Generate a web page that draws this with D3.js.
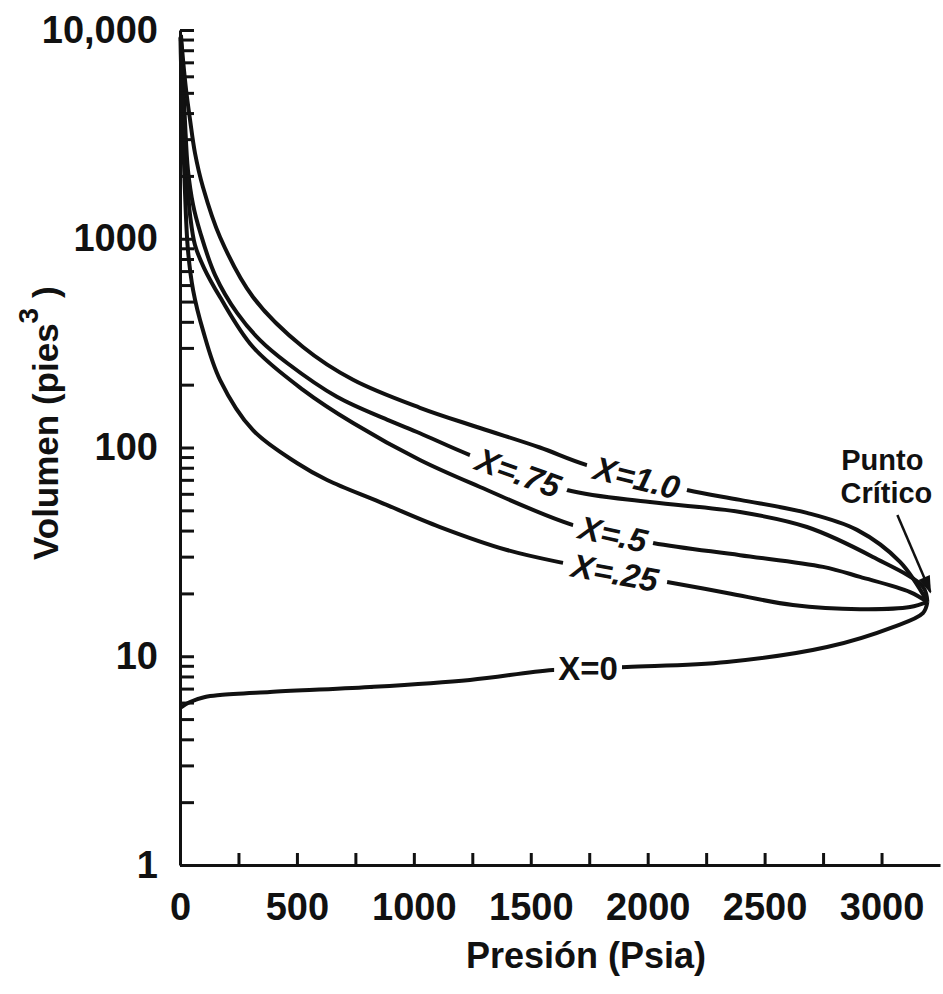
<!DOCTYPE html>
<html>
<head>
<meta charset="utf-8">
<script src="https://cdn.jsdelivr.net/npm/d3@7"></script>
<style>
  body { margin: 0; background: #fff; }
  text { font-family: "Liberation Sans", Arial, Helvetica, sans-serif; fill: #111; }
</style>
</head>
<body>
<div id="wrapper"></div>
<script>
// data: [pressure (psia), volume (ft3)]
const curveX100 = [[4, 9460], [13, 7180], [26, 5160], [43, 3710], [64, 2575], [98, 1770], [171, 1020], [312, 526], [526, 303], [740, 211], [1026, 155], [1283, 124], [1539, 100], [1740, 82.4], [2168, 62.6], [2395, 56.1], [2681, 48.6], [2895, 40.3], [3079, 28.3], [3196, 18.2]]
const curveX75 = [[3, 9300], [9, 7180], [21, 3710], [34, 2135], [56, 1452], [86, 1077], [150, 670], [244, 441], [342, 327], [458, 254], [671, 175], [885, 136], [1026, 117], [1240, 92], [1655, 62.6], [2010, 54.8], [2395, 49.1], [2681, 41.6], [2963, 29.9], [3177, 21.5], [3196, 18.2]]
const curveX50 = [[4, 8960], [13, 4885], [21, 2970], [34, 1713], [43, 1300], [64, 933], [103, 724], [171, 526], [312, 303], [526, 189], [740, 131], [1026, 87.1], [1283, 64.7], [1681, 42.5], [2023, 34.9], [2395, 30.5], [2750, 26.8], [2908, 24], [3122, 20.3], [3196, 18.2]]
const curveX25 = [[2, 9200], [4, 7180], [13, 3318], [21, 1713], [34, 883], [56, 568], [98, 365], [171, 211], [312, 121], [500, 84.3], [629, 69.9], [855, 54.8], [1112, 41.6], [1398, 32.3], [1638, 28], [2083, 22.7], [2339, 20.1], [2621, 17.6], [2908, 16.8], [3122, 17.2], [3196, 18.2]]
const curveX0 = [[0, 5.65], [43, 6.04], [107, 6.38], [171, 6.52], [385, 6.74], [812, 7.12], [1240, 7.7], [1595, 8.59], [1911, 8.88], [2339, 9.39], [2767, 11.07], [3049, 13.8], [3177, 16.1], [3196, 18.2]]

const curves = [curveX100, curveX75, curveX50, curveX25, curveX0]
const curveLabels = ["X=1.0", "X=.75", "X=.5", "X=.25", "X=0"]
const labelFrom = [1740, 1240, 1681, 1638, 1600]   // pressure where the label starts
const labelTo = [2168, 1655, 2023, 2083, 1890]     // pressure where it ends
const labelItalic = [true, true, true, true, false]

const critPressure = 3196
const critVolume = 18.2

const xTicks = [0, 250, 500, 750, 1000, 1250, 1500, 1750, 2000, 2250, 2500, 2750, 3000]
const yMajor = [1, 10, 100, 1000, 10000]
const yMajorLabels = ["1", "10", "100", "1000", "10,000"]

const drawChart = () => {
  const dimensions = {
    width: 943,
    height: 994,
    margin: { top: 30, right: 3, bottom: 129, left: 180 },
  }
  dimensions.boundedWidth = dimensions.width - dimensions.margin.left - dimensions.margin.right
  dimensions.boundedHeight = dimensions.height - dimensions.margin.top - dimensions.margin.bottom

  const svg = d3.select("#wrapper")
    .append("svg")
    .attr("width", dimensions.width)
    .attr("height", dimensions.height)
    .style("background", "#fff")

  svg.append("defs").append("marker")
    .attr("id", "arrow")
    .attr("viewBox", "0 0 10 10")
    .attr("refX", 9).attr("refY", 5)
    .attr("markerWidth", 8).attr("markerHeight", 7)
    .attr("orient", "auto")
    .append("path")
    .attr("d", "M0,1.5 L10,5 L0,8.5 Z")
    .attr("fill", "#111")

  const bounds = svg.append("g")
    .attr("transform", `translate(${dimensions.margin.left},${dimensions.margin.top})`)

  const xScale = d3.scaleLinear().domain([0, 3250]).range([0, dimensions.boundedWidth])
  const yScale = d3.scaleLog().domain([1, 10000]).range([dimensions.boundedHeight, 0])

  const lineGen = d3.line()
    .x(d => xScale(d[0]))
    .y(d => yScale(d[1]))
    .curve(d3.curveCatmullRom.alpha(0.5))

  bounds.selectAll(".curve")
    .data(curves)
    .join("path")
    .attr("class", "curve")
    .attr("d", lineGen)
    .attr("fill", "none")
    .attr("stroke", "#111")
    .attr("stroke-width", 4)
    .attr("stroke-linejoin", "round")

  // volume on a curve at a given pressure (log interpolation)
  const volumeAt = (data, p) => {
    const i = Math.max(1, d3.bisector(d => d[0]).left(data, p))
    const a = data[i - 1], b = data[i]
    const t = (p - a[0]) / (b[0] - a[0])
    return Math.exp(Math.log(a[1]) + t * (Math.log(b[1]) - Math.log(a[1])))
  }

  // curve labels sitting in a gap of the line
  curves.forEach((data, i) => {
    const x1 = xScale(labelFrom[i]), y1 = yScale(volumeAt(data, labelFrom[i]))
    const x2 = xScale(labelTo[i]), y2 = yScale(volumeAt(data, labelTo[i]))
    const angle = labelItalic[i] ? Math.atan2(y2 - y1, x2 - x1) * 180 / Math.PI : 0
    const g = bounds.append("g")
      .attr("transform", `translate(${(x1 + x2) / 2},${(y1 + y2) / 2}) rotate(${angle})`)
    const w = Math.hypot(x2 - x1, y2 - y1)
    g.append("rect")
      .attr("fill", "#fff")
      .attr("x", -w / 2).attr("y", -12)
      .attr("width", w).attr("height", 24)
    g.append("text")
      .attr("text-anchor", "middle")
      .attr("dy", "0.36em")
      .style("font-size", "33px")
      .style("font-weight", "bold")
      .style("font-style", labelItalic[i] ? "italic" : "normal")
      .text(curveLabels[i])
  })

  // axes
  const yTicks = []
  for (let k = 0; k < 4; k++) {
    for (let m = 1; m < 10; m++) yTicks.push(m * Math.pow(10, k))
  }
  yTicks.push(10000)

  const yAxisGenerator = d3.axisLeft(yScale)
    .tickValues(yTicks)
    .tickSize(-14)
    .tickSizeOuter(0)
    .tickPadding(22)
    .tickFormat(d => {
      const idx = yMajor.indexOf(d)
      return idx >= 0 ? yMajorLabels[idx] : ""
    })

  const xAxisGenerator = d3.axisBottom(xScale)
    .tickValues(xTicks)
    .tickSize(-12)
    .tickSizeOuter(0)
    .tickPadding(28)
    .tickFormat(d => (d % 500 === 0 ? d : ""))

  const yAxis = bounds.append("g").call(yAxisGenerator)
  const xAxis = bounds.append("g")
    .attr("transform", `translate(0,${dimensions.boundedHeight})`)
    .call(xAxisGenerator)

  ;[xAxis, yAxis].forEach(ax => {
    ax.select(".domain").attr("stroke", "#111").attr("stroke-width", 3)
    ax.selectAll(".tick line").attr("stroke", "#111").attr("stroke-width", 3)
    ax.selectAll(".tick text")
      .attr("fill", "#111")
      .style("font-family", "'Liberation Sans', Arial, sans-serif")
      .style("font-size", "38px")
      .style("font-weight", "bold")
  })

  // axis titles
  svg.append("text")
    .attr("x", 586)
    .attr("y", 968)
    .attr("text-anchor", "middle")
    .style("font-size", "36px")
    .style("font-weight", "bold")
    .text("Presión (Psia)")

  const yTitle = svg.append("text")
    .attr("transform", "translate(58,560) rotate(-90)")
    .attr("text-anchor", "start")
    .style("font-size", "35px")
    .style("font-weight", "bold")
  yTitle.append("tspan").text("Volumen (pies")
  yTitle.append("tspan").attr("dy", -20).style("font-size", "28px").text("3")
  yTitle.append("tspan").attr("dy", 20).text(" )")

  // critical point annotation
  const cx = xScale(critPressure), cy = yScale(critVolume)
  const note = bounds.append("text")
    .attr("text-anchor", "middle")
    .style("font-size", "29px")
    .style("font-weight", "bold")
  note.append("tspan").attr("x", cx - 45).attr("y", cy - 132).text("Punto")
  note.append("tspan").attr("x", cx - 41).attr("y", cy - 99).text("Crítico")

  bounds.append("line")
    .attr("x1", cx - 30).attr("y1", cy - 87)
    .attr("x2", cx + 3).attr("y2", cy - 10)
    .attr("stroke", "#111")
    .attr("stroke-width", 2.5)
    .attr("marker-end", "url(#arrow)")
}

drawChart()
</script>
</body>
</html>
